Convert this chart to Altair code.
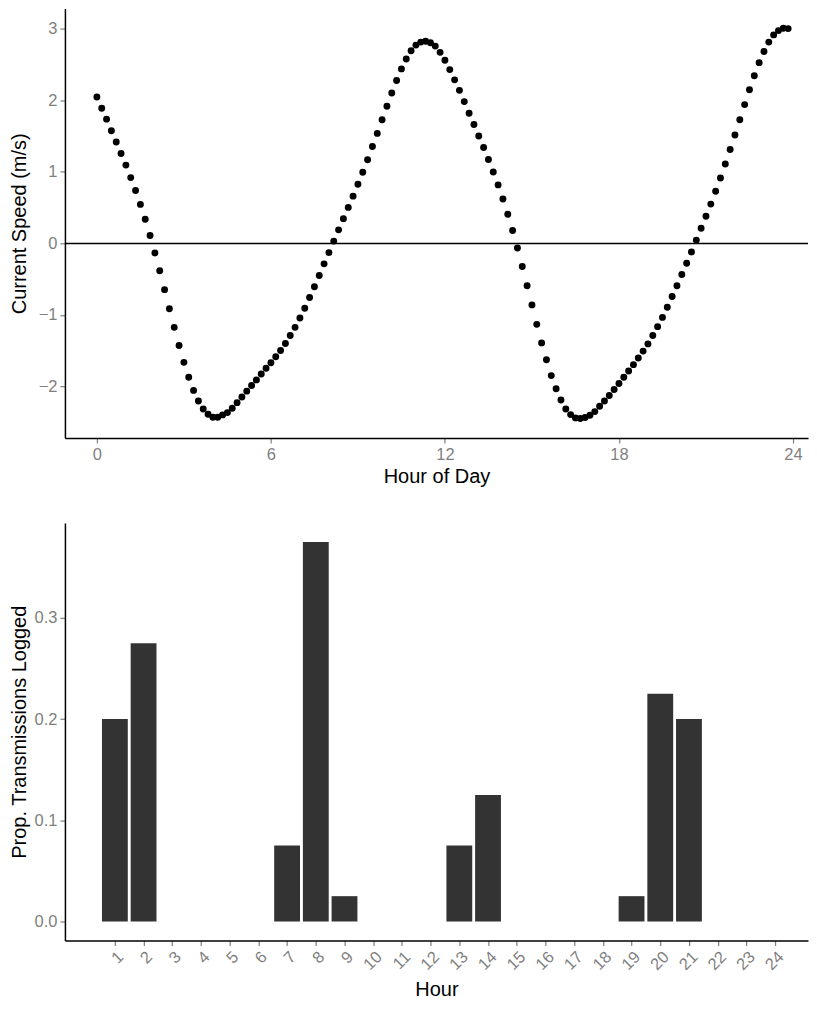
import altair as alt
import pandas as pd

FONT = "Liberation Sans"

# ---- Top panel: current speed every 10 minutes ----
step_minutes = 10
speed = [2.045, 1.888, 1.736, 1.574, 1.417, 1.256, 1.094, 0.919, 0.739, 0.545,
         0.337, 0.111, -0.134, -0.383, -0.646, -0.914, -1.173, -1.427, -1.662, -1.870,
         -2.054, -2.202, -2.313, -2.387, -2.428, -2.428, -2.396, -2.364, -2.304, -2.225,
         -2.147, -2.064, -1.985, -1.907, -1.824, -1.745, -1.667, -1.584, -1.496, -1.399,
         -1.288, -1.173, -1.043, -0.905, -0.757, -0.605, -0.448, -0.286, -0.129, 0.032,
         0.189, 0.346, 0.503, 0.660, 0.826, 0.993, 1.168, 1.353, 1.537, 1.727,
         1.916, 2.101, 2.276, 2.438, 2.576, 2.692, 2.770, 2.812, 2.825, 2.802,
         2.756, 2.669, 2.558, 2.428, 2.285, 2.138, 1.981, 1.819, 1.662, 1.500,
         1.339, 1.173, 0.997, 0.817, 0.619, 0.406, 0.180, -0.065, -0.323, -0.591,
         -0.859, -1.131, -1.390, -1.625, -1.847, -2.031, -2.188, -2.313, -2.392, -2.438,
         -2.447, -2.433, -2.401, -2.350, -2.276, -2.202, -2.124, -2.041, -1.958, -1.870,
         -1.782, -1.694, -1.602, -1.505, -1.404, -1.288, -1.163, -1.034, -0.891, -0.743,
         -0.591, -0.434, -0.277, -0.120, 0.046, 0.212, 0.379, 0.549, 0.729, 0.914,
         1.108, 1.311, 1.514, 1.727, 1.939, 2.147, 2.341, 2.525, 2.682, 2.812,
         2.913, 2.973, 3.006, 3.001]
hours = [i * step_minutes / 60 for i in range(len(speed))]
top_x_ticks = [0, 6, 12, 18, 24]
top_y_ticks = [-2, -1, 0, 1, 2, 3]

# ---- Bottom panel: proportion of transmissions logged per hour ----
bar_hours = [1, 2, 7, 8, 9, 13, 14, 19, 20, 21]
bar_props = [0.200, 0.275, 0.075, 0.375, 0.025, 0.075, 0.125, 0.025, 0.225, 0.200]
bottom_x_ticks = list(range(1, 25))
bottom_y_ticks = [0.0, 0.1, 0.2, 0.3]

top_df = pd.DataFrame({"hour": hours, "speed": speed})
bar_df = pd.DataFrame({"hour": bar_hours, "prop": bar_props})

y_axis_common = dict(minExtent=31, maxExtent=31, titlePadding=4)

points = alt.Chart(top_df).mark_circle(size=48, color="black", opacity=1).encode(
    x=alt.X("hour:Q",
            scale=alt.Scale(domain=[-1.102, 24.518], nice=False, zero=False),
            axis=alt.Axis(values=top_x_ticks, format="d", title="Hour of Day")),
    y=alt.Y("speed:Q",
            scale=alt.Scale(domain=[-2.72, 3.28], nice=False, zero=False),
            axis=alt.Axis(values=top_y_ticks, format="d", title="Current Speed (m/s)",
                          **y_axis_common)),
)
zero_line = alt.Chart(top_df).mark_rule(color="black", strokeWidth=1.5).encode(
    y=alt.datum(0)
).transform_filter("datum.hour == 0")

top = alt.layer(zero_line, points).properties(width=744, height=430)

bars = alt.Chart(bar_df).transform_calculate(
    x0="datum.hour - 0.45", x1="datum.hour + 0.45"
).mark_bar(color="#333333").encode(
    x=alt.X("x0:Q",
            scale=alt.Scale(domain=[-0.740, 25.147], nice=False, zero=False),
            axis=alt.Axis(values=bottom_x_ticks, format="d", title="Hour",
                          labelAngle=-45, labelAlign="right", labelBaseline="top",
                          titlePadding=6)),
    x2="x1:Q",
    y=alt.Y("prop:Q",
            scale=alt.Scale(domain=[-0.01875, 0.39375], nice=False, zero=False),
            axis=alt.Axis(values=bottom_y_ticks, format=".1f",
                          title="Prop. Transmissions Logged", **y_axis_common)),
    y2=alt.datum(0),
).properties(width=744, height=418)

chart = alt.vconcat(
    top, bars, spacing=36,
    padding={"left": 2, "top": 0, "right": 0, "bottom": 0},
).configure(
    font=FONT
).configure_view(stroke=None).configure_axis(
    grid=False,
    domainColor="black",
    domainWidth=1.5,
    tickColor="#7f7f7f",
    tickWidth=1.2,
    tickSize=5,
    labelColor="#7f7f7f",
    labelFont=FONT,
    labelFontSize=16.5,
    labelPadding=3,
    titleFont=FONT,
    titleFontSize=20,
    titleFontWeight="normal",
    titleColor="black",
).configure_axisX(titlePadding=4)

chart.save("out.html", embed_options={"renderer": "svg", "actions": False})
